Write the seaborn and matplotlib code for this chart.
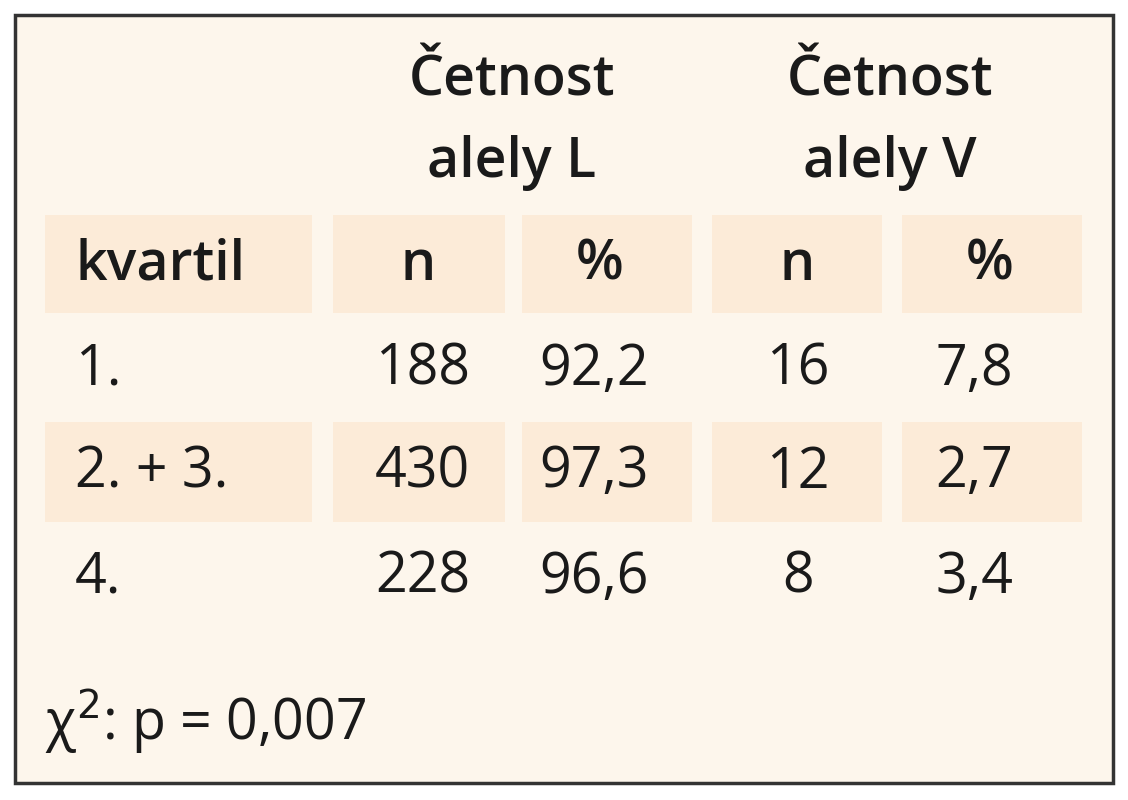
import matplotlib
matplotlib.use("Agg")
import matplotlib.pyplot as plt
import seaborn as sns
from matplotlib.patches import Rectangle

sns.set_theme(style="white")
plt.rcParams['font.family'] = ['Open Sans', 'DejaVu Sans']

# ------- TABLE DATA ---------
group_headers = ["Četnost\nalely L", "Četnost\nalely V"]
col_headers = ["kvartil", "n", "%", "n", "%"]
row_labels = ["1.", "2. + 3.", "4."]
n_L = [188, 430, 228]
pct_L = ["92,2", "97,3", "96,6"]
n_V = [16, 12, 8]
pct_V = ["7,8", "2,7", "3,4"]
footer = "χ$^2$: p = 0,007"

BG = "#fdf6ec"
SHADE = "#fcebd8"
INK = "#1a1a1a"
FS = 40

fig = plt.figure(figsize=(11.28, 8), dpi=100)
fig.patch.set_facecolor("white")
ax = fig.add_axes([0, 0, 1, 1])
ax.set_xlim(0, 1128)
ax.set_ylim(800, 0)
ax.axis("off")

# frame
ax.add_patch(Rectangle((15, 15), 1098, 768, facecolor=BG, edgecolor="#333333", lw=2.5))

# column cells (x0, x1)
cols = [(45, 312), (333, 505), (522, 692), (712, 882), (902, 1082)]
shaded_rows = [(215, 313), (422, 522)]
for y0, y1 in shaded_rows:
    for x0, x1 in cols:
        ax.add_patch(Rectangle((x0, y0), x1 - x0, y1 - y0, facecolor=SHADE, edgecolor="none"))

# group headers
for label, xc in zip(group_headers, [512, 890]):
    ax.text(xc, 122, label, ha="center", va="center", fontsize=FS, fontweight="semibold",
            color=INK, linespacing=1.6)

# column headers
hx = [75, 418, 600, 797, 990]
for i, (h, x) in enumerate(zip(col_headers, hx)):
    ax.text(x, 266, h, ha="left" if i == 0 else "center", va="center",
            fontsize=FS, fontweight="semibold", color=INK)

# body rows
row_y = [370, 473, 578]
for i, y in enumerate(row_y):
    ax.text(75, y, row_labels[i], ha="left", va="center", fontsize=FS, color=INK)
    ax.text(470, y, str(n_L[i]), ha="right", va="center", fontsize=FS, color=INK)
    ax.text(594, y, pct_L[i], ha="center", va="center", fontsize=FS, color=INK)
    ax.text(798, y, str(n_V[i]), ha="center", va="center", fontsize=FS, color=INK)
    ax.text(974, y, pct_V[i], ha="center", va="center", fontsize=FS, color=INK)

ax.text(45, 722, footer, ha="left", va="center", fontsize=FS, color=INK)

fig.savefig("out.png", dpi=100, facecolor=fig.get_facecolor())
